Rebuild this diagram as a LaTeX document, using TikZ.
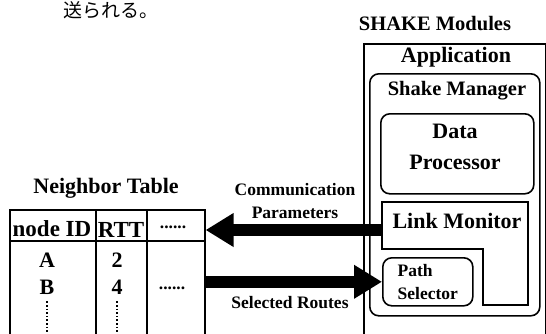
\documentclass[tikz,border=0pt]{standalone}
\usepackage{fontspec}
\setmainfont{Liberation Serif}
\newfontfamily\jpfont{Noto Sans CJK JP}
\usetikzlibrary{positioning,arrows.meta}

\begin{document}
\begin{tikzpicture}[
    x=1pt, y=-1pt,
    frame/.style={%
      draw,
      line width=1.6pt,
      inner sep=0pt,
      anchor=north west,
    },
    rframe/.style={%
      frame,
      rounded corners=9pt,
    },
    big/.style={%
      font=\fontsize{22}{24}\selectfont\bfseries,
      inner sep=0pt,
    },
    mid/.style={%
      font=\fontsize{20.5}{22}\selectfont\bfseries,
      inner sep=0pt,
    },
    small/.style={%
      font=\fontsize{17.5}{23}\selectfont\bfseries,
      inner sep=0pt,
    },
    flow/.style={%
      line width=12pt,
      -{Triangle[length=28pt,width=32pt]},
    },
  ]

    \useasboundingbox (0,0) rectangle (546,333);

    \node [inner sep=0pt, anchor=base, font=\jpfont\fontsize{19}{19}\selectfont] (jp) at (111,17) {送られる。};

    \node [mid] (mods) at (435,24) {SHAKE Modules};
    \node [frame, minimum width=182pt, minimum height=310pt] (app) at (363,43) {};
    \node [big] (appT) at (456,57) {Application};
    \node [rframe, minimum width=170pt, minimum height=242pt] (mgr) at (369,73) {};
    \node [mid] (mgrT) at (457,91) {Shake Manager};
    \node [rframe, minimum width=153pt, minimum height=80pt] (dp) at (380,113) {};
    \node [big] (data) at (455,131) {Data};
    \path (data) ++(0,31) node [big] (proc) {Processor};

    \draw [line width=1.6pt] (382,202) -- (528,202) -- (528,305) -- (483,305)
      -- (483,249) -- (382,249) -- cycle;
    \node [big] (lm) at (457,221) {Link Monitor};
    \coordinate (lmW) at (382,230);

    \node [rframe, minimum width=90pt, minimum height=48pt] (psBox) at (382,257) {};
    \node [small, align=left] (ps) at (psBox.center) {Path\\Selector};

    \node [big] (ntT) at (106,188) {Neighbor Table};
    \node [frame, minimum width=195pt, minimum height=140pt] (tbl) at (9,209) {};
    \draw [line width=1.6pt] (9,241) -- (204,241);
    \draw [line width=1.6pt] (96,209) -- (96,340);
    \draw [line width=1.6pt] (147,209) -- (147,340);

    \node [font=\fontsize{23}{24}\selectfont\bfseries, inner sep=0pt] (hId) at (52,229) {node ID};
    \node [font=\fontsize{23}{24}\selectfont\bfseries, inner sep=0pt] (hRtt) at (121,230) {RTT};
    \node [small] (hMore) at (173,227) {......};
    \node [big] (rA) at (47,260) {A};
    \node [big] (rB) at (47,287) {B};
    \node [big] (r2) at (117,260) {2};
    \node [big] (r4) at (117,287) {4};
    \node [small] (rMore) at (172,288) {......};
    \draw [line width=1.6pt, dotted] (rB.south) ++(0,7) -- (47,340);
    \draw [line width=1.6pt, dotted] (r4.south) ++(0,7) -- (117,340);

    \draw [flow] (lmW) -- (tbl.east |- lmW);
    \draw [flow] (tbl.east |- psBox.west) -- (psBox.west);

    \node [small, align=center] (cp) at (295,201) {Communication\\Parameters};
    \node [small] (sr) at (290,303) {Selected Routes};
\end{tikzpicture}
\end{document}
